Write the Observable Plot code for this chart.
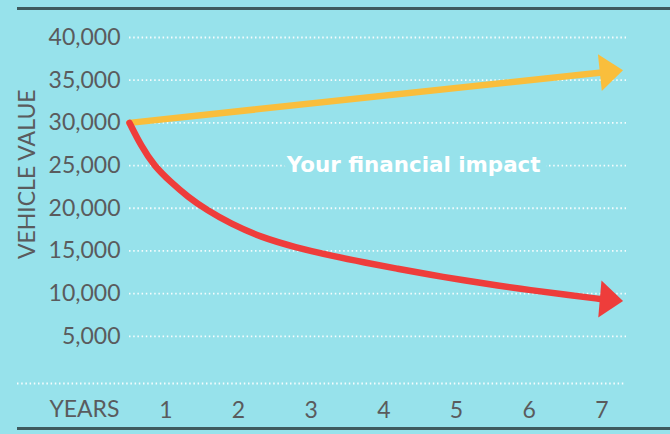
<!DOCTYPE html>
<html><head><meta charset="utf-8">
<script src="https://cdn.jsdelivr.net/npm/d3@7"></script>
<script src="https://cdn.jsdelivr.net/npm/@observablehq/plot@0.6"></script>
<style>
html,body{margin:0;padding:0;background:#97e2eb;}
#wrap{position:relative;width:670px;height:434px;overflow:hidden;}
#frame{position:absolute;left:17px;top:7px;width:653px;height:423px;box-sizing:border-box;border-top:3px solid #3e5a5e;border-bottom:3px solid #3e5a5e;pointer-events:none;}
</style></head><body><div id="wrap"><div id="frame"></div></div>
<script>
// ---- data ----
const yearTicks = [1, 2, 3, 4, 5, 6, 7];
const valueTicks = [5000, 10000, 15000, 20000, 25000, 30000, 35000, 40000];
// appreciating line (yellow)
const risingYears = [0.5, 7.0];
const risingValues = [30000, 35900];
// depreciating line (red)
const fallingYears = [0.5, 0.66, 0.84, 1.07, 1.3, 1.57, 1.89, 2.31, 2.77, 3.32, 3.73, 4.19, 4.65, 5.1, 5.57, 6.02, 6.48, 7.0];
const fallingValues = [30000, 27300, 24950, 23050, 21350, 19750, 18200, 16600, 15450, 14350, 13650, 12900, 12200, 11550, 10950, 10400, 9900, 9350];
const yLabel = "VEHICLE VALUE";
const xLabel = "YEARS";
const annotationText = "Your financial impact";
const annotationYear = 4.41;
const annotationValue = 25000;

// ---- build ----
const bg = "#97e2eb";
const textColor = "#5a5b5d";
const yellow = "#f9be3c";
const red = "#ee3d3b";
const rising = risingYears.map((x, i) => ({x, y: risingValues[i]}));
const falling = fallingYears.map((x, i) => ({x, y: fallingValues[i]}));
const arrowHead = {
  draw(context, size) {
    const r = Math.sqrt(size / Math.PI);
    context.moveTo(-2, -r);
    context.lineTo(1.15 * r, 0);
    context.lineTo(-2, r);
    context.closePath();
  }
};
const dotted = {stroke: "white", strokeWidth: 1.8, strokeDasharray: "1.5 2.7", strokeOpacity: 0.9};

const chart = Plot.plot({
  width: 670, height: 434,
  marginLeft: 129, marginRight: 44, marginTop: 37, marginBottom: 55.5,
  style: {background: "transparent", fontFamily: "Lato, sans-serif", overflow: "visible"},
  x: {domain: [0.5, 7.339]},
  y: {domain: [0, 40000]},
  marks: [
    Plot.ruleY(valueTicks, dotted),
    Plot.ruleY([0], {...dotted, dy: 4.5, insetLeft: -112}),
    Plot.axisY({ticks: valueTicks, tickSize: 0, tickPadding: 9, tickFormat: d3.format(","), fontSize: 23, fill: textColor, label: null}),
    Plot.axisX({ticks: yearTicks, tickSize: 0, tickPadding: 23, tickFormat: d3.format("d"), fontSize: 23, fill: textColor, label: null}),
    Plot.text([xLabel], {text: d => d, frameAnchor: "bottom-left", dx: -10, dy: 38, textAnchor: "end", fontSize: 23, fill: textColor}),
    Plot.text([yLabel], {text: d => d, frameAnchor: "left", textAnchor: "middle", rotate: -90, dx: -102, dy: -34, fontSize: 23, fill: textColor}),
    Plot.text([annotationText], {text: d => d, x: annotationYear, y: annotationValue, fontFamily: "DejaVu Sans", fontWeight: "bold", fontSize: 21.4, fill: "white", stroke: bg, strokeWidth: 14, paintOrder: "stroke", strokeLinejoin: "round"}),
    Plot.line(rising, {x: "x", y: "y", stroke: yellow, strokeWidth: 6.5, strokeLinecap: "round"}),
    Plot.dot(rising.slice(-1), {x: "x", y: "y", symbol: arrowHead, r: 18.5, rotate: -6, fill: yellow, stroke: "none"}),
    Plot.line(falling, {x: "x", y: "y", curve: "basis", stroke: red, strokeWidth: 6.5, strokeLinecap: "round"}),
    Plot.dot(falling.slice(-1), {x: "x", y: "y", symbol: arrowHead, r: 18.5, rotate: 5, fill: red, stroke: "none"})
  ]
});
document.getElementById("wrap").prepend(chart);
</script></body></html>
